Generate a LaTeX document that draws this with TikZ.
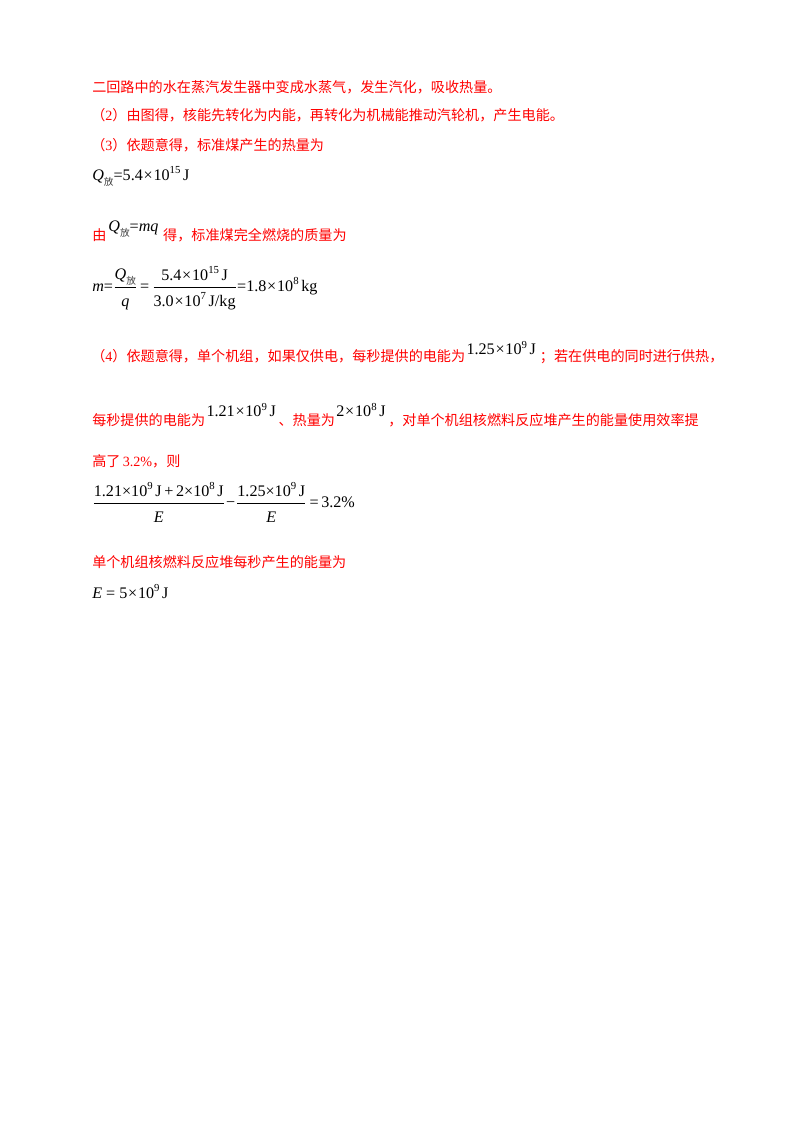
\documentclass[tikz,border=0pt]{standalone}
\usepackage{fontspec}
\setmainfont{Liberation Serif}
\newfontfamily\cjk{Noto Sans CJK SC}
\definecolor{ansred}{RGB}{255,0,0}
\newcommand{\spx}[1]{\raisebox{0.42em}{\fontsize{8}{8}\selectfont #1}}
\newcommand{\tms}{\hspace{0.6pt}×\hspace{0.6pt}}
\newcommand{\fang}{\raisebox{-0.28em}{\fontsize{7.2}{7.2}\selectfont\cjk\color{black!75}放}}
\newcommand{\Qf}{\textit{Q}\fang}
\newcommand{\rmt}[1]{{\rmfamily #1}}
\newcommand{\upm}[2]{{\fontsize{12}{14}\selectfont\rmfamily\color{black}\raisebox{#1}{#2}}}
\tikzset{
  txt/.style={anchor=base west, inner sep=0pt, font=\fontsize{10.5}{12}\selectfont\cjk, text=ansred},
  mth/.style={anchor=base west, inner sep=0pt, font=\fontsize{12}{14}\selectfont\rmfamily, text=black},
}
\begin{document}
\begin{tikzpicture}[x=0.7441pt,y=-0.7441pt]
\useasboundingbox (0,0) rectangle (800,1132);
\fill[white] (0,0) rectangle (800,1132);

\node[txt] (l1) at (92,92.5) {二回路中的水在蒸汽发生器中变成水蒸气，发生汽化，吸收热量。};
\node[txt] (l2) at (91,120.5) {（\rmt{2}）由图得，核能先转化为内能，再转化为机械能推动汽轮机，产生电能。};
\node[txt] (l3) at (91,150.5) {（\rmt{3}）依题意得，标准煤产生的热量为};
\node[mth] (q1) at (92,180.5) {\Qf=5.4\tms10\spx{15}\,J};

\node[txt] (l4) at (92,240) {由\hspace{1.5pt}\upm{6.3pt}{\Qf=\textit{mq}}\hspace{3.5pt}得，标准煤完全燃烧的质量为};

\node[mth] (f1) at (92,291) {$\displaystyle
  \mbox{\textit{m}=}\frac{\mbox{\Qf}}{\raisebox{-3.3pt}{\textit{q}}}\mbox{\,=\,}
  \frac{\mbox{\hspace{5pt}5.4\tms10\spx{15}\,J\hspace{5pt}}}{\raisebox{-3.3pt}{3.0\tms10\spx{7}\,J/kg}}\mbox{=1.8\tms10\spx{8}\,kg}$};

\node[txt] (l5) at (91,361.5) {（\rmt{4}）依题意得，单个机组，如果仅供电，每秒提供的电能为\hspace{1pt}\upm{5pt}{1.25\tms10\spx{9}\,J}\hspace{3pt}；若在供电的同时进行供热，};
\node[txt] (l6) at (92,425) {每秒提供的电能为\hspace{1pt}\upm{6pt}{1.21\tms10\spx{9}\,J}\hspace{2pt}、热量为\hspace{1pt}\upm{6pt}{2\tms10\spx{8}\,J}\hspace{2pt}，对单个机组核燃料反应堆产生的能量使用效率提};
\node[txt] (l7) at (92,466.5) {高了\,\rmt{3.2\%}，则};

\node[mth] (f2) at (92,507) {$\displaystyle
  \frac{\mbox{1.21×10\spx{9}\,J\hspace{2pt}+\hspace{2pt}2×10\spx{8}\,J}}{\raisebox{-3pt}{\textit{E}}}\mbox{\hspace{0.5pt}−\hspace{0.5pt}}
  \frac{\mbox{1.25×10\spx{9}\,J}}{\raisebox{-3pt}{\textit{E}}}\mbox{\hspace{2pt}=\hspace{2pt}3.2\%}$};

\node[txt] (l8) at (92,567) {单个机组核燃料反应堆每秒产生的能量为};
\node[mth] (e1) at (92,598) {\textit{E} = 5\tms10\spx{9}\,J};
\end{tikzpicture}
\end{document}
